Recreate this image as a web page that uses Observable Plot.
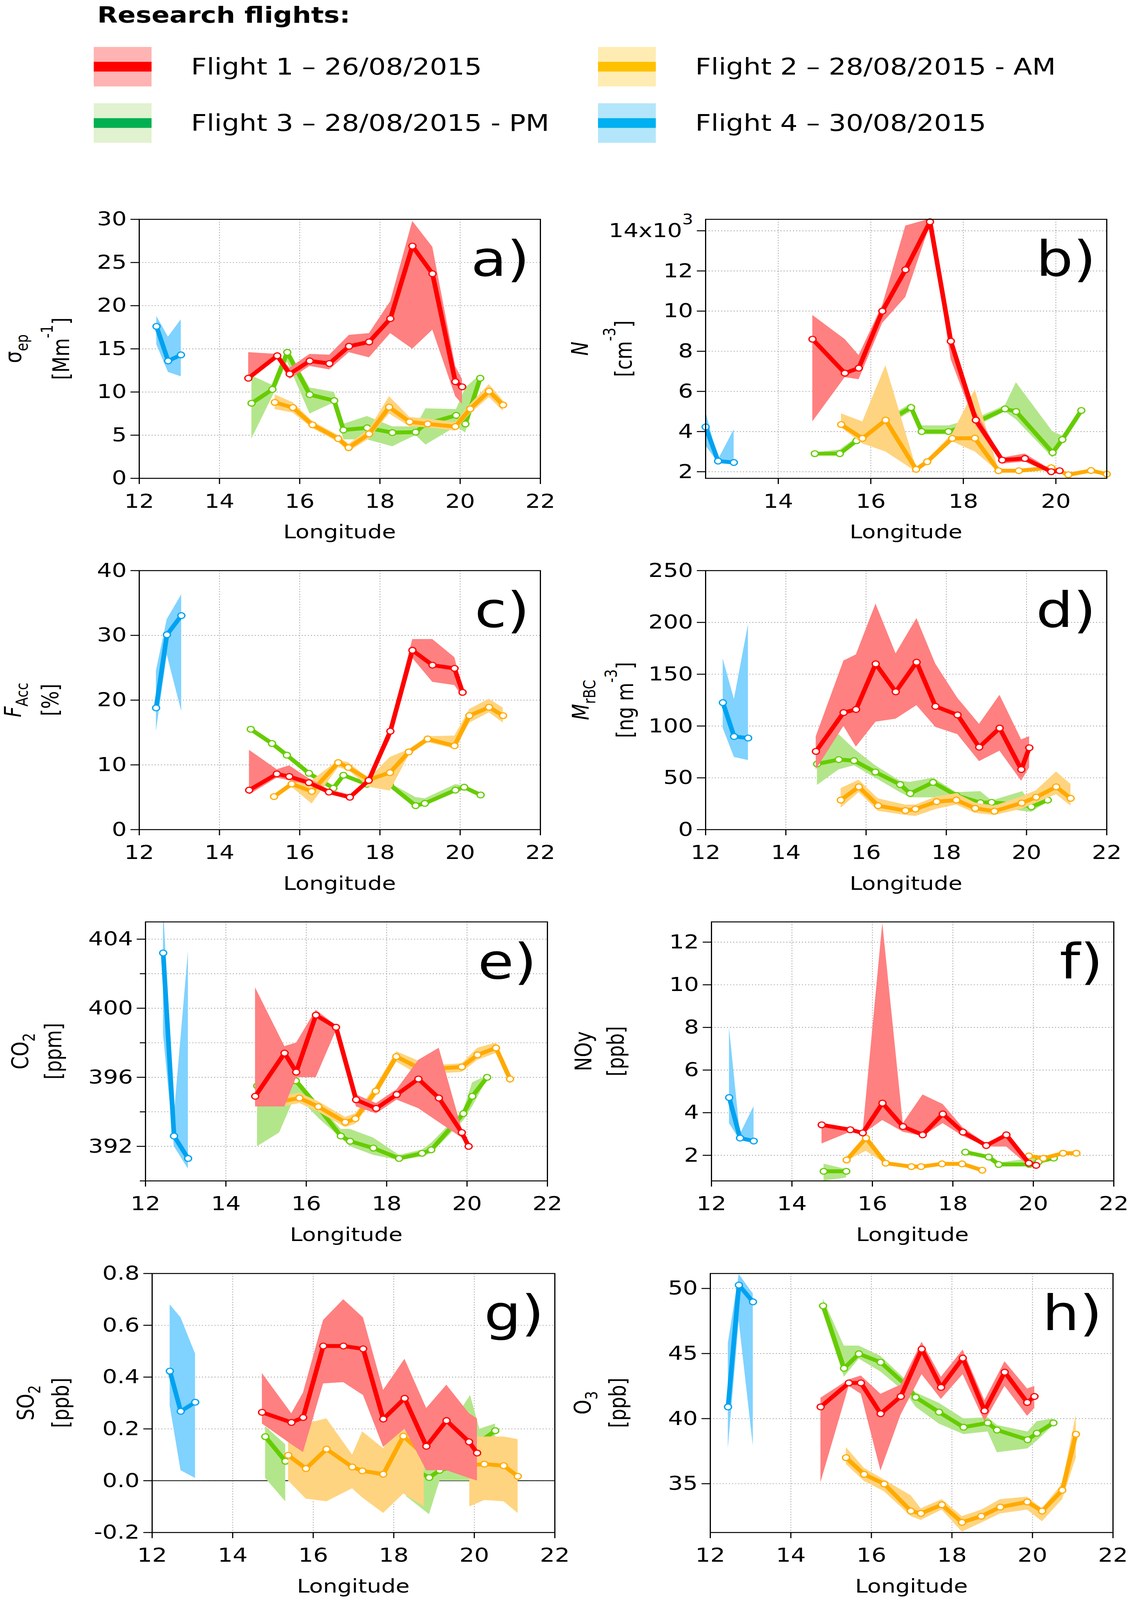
<!DOCTYPE html>
<html>
<head>
<meta charset="utf-8">
<script src="https://cdn.jsdelivr.net/npm/d3@7"></script>
<script src="https://cdn.jsdelivr.net/npm/@observablehq/plot@0.6"></script>
<style>
  html, body { margin: 0; padding: 0; background: white; }
  #wrap { position: relative; width: 2893px; height: 4942px; background: white; overflow: hidden; }
  .pos { position: absolute; }
</style>
</head>
<body>
<div id="wrap"></div>
<script>
// ---------------- DATA: [longitude, mean, lower, upper] ----------------
const flightNames = ["Flight 1 – 26/08/2015", "Flight 2 – 28/08/2015 - AM", "Flight 3 – 28/08/2015 - PM", "Flight 4 – 30/08/2015"];

// a) sigma_ep
const a_f1 = [[14.72,11.6,11.6,14.6],[15.44,14.2,13.8,14.4],[15.75,12.1,11.5,12.8],[16.25,13.6,13.0,14.4],[16.74,13.3,12.6,14.3],[17.23,15.3,14.6,16.6],[17.73,15.8,14.0,16.8],[18.26,18.5,16.8,20.5],[18.81,26.9,15.0,29.8],[19.31,23.7,17.2,26.8],[19.88,11.2,9.5,13.0],[20.05,10.6,8.6,11.5]];
const a_f2 = [[15.38,8.8,8.0,9.7],[15.83,8.2,7.6,8.8],[16.32,6.2,5.8,6.6],[16.96,4.6,4.2,5.0],[17.22,3.55,3.1,4.0],[17.73,5.15,4.6,5.7],[18.23,8.25,7.5,9.5],[18.74,6.55,6.0,7.1],[19.19,6.3,5.9,6.9],[19.88,6.0,5.5,6.5],[20.25,8.05,7.5,8.6],[20.72,10.1,9.4,10.9],[21.07,8.5,7.8,9.0]];
const a_f3 = [[14.8,8.7,4.6,11.9],[15.32,10.3,9.5,10.8],[15.69,14.6,13.5,15.0],[16.25,9.7,7.5,10.5],[16.86,9.0,8.8,10.0],[17.09,5.6,4.5,6.3],[17.68,5.85,4.5,7.2],[18.31,5.3,3.7,6.0],[18.89,5.35,5.0,6.0],[19.14,6.3,3.9,8.1],[19.9,7.3,6.0,8.0],[20.13,6.3,5.3,10.5],[20.5,11.6,11.0,12.0]];
const a_f4 = [[12.43,17.6,15.5,18.8],[12.72,13.6,12.3,16.4],[13.04,14.3,11.8,18.4]];

// b) N
const b_f1 = [[14.74,8.6,4.5,9.8],[15.44,6.91,6.7,8.6],[15.74,7.16,6.6,7.8],[16.25,10.0,9.4,10.3],[16.75,12.06,10.7,14.25],[17.28,14.45,14.3,14.6],[17.73,8.5,7.6,8.6],[18.27,4.57,4.3,5.0],[18.84,2.58,2.4,2.7],[19.33,2.66,2.5,2.9],[19.9,2.0,1.9,2.1],[20.08,2.05,1.95,2.1]];
const b_f2 = [[15.36,4.35,4.2,4.9],[15.82,3.66,3.4,4.5],[16.32,4.57,3.0,7.3],[16.98,2.12,2.0,2.2],[17.22,2.5,2.4,2.6],[17.76,3.66,3.5,3.9],[18.25,3.67,3.0,6.1],[18.76,2.05,2.0,2.1],[19.2,2.05,2.0,2.1],[19.9,2.2,2.1,2.3],[20.27,1.85,1.8,1.9],[20.76,2.06,2.0,2.1],[21.1,1.88,1.8,1.95]];
const b_f3 = [[14.79,2.9,2.85,2.95],[15.33,2.9,2.85,3.1],[15.69,3.54,3.4,3.7],[16.28,4.4,4.2,4.6],[16.87,5.2,5.0,5.4],[17.1,4.0,3.85,4.3],[17.68,4.0,3.85,4.3],[18.31,4.5,4.3,4.7],[18.9,5.13,5.0,5.3],[19.14,5.0,4.6,6.45],[19.93,2.95,2.7,4.0],[20.14,3.6,3.5,3.8],[20.55,5.05,4.95,5.15]];
const b_f4 = [[12.43,4.23,3.3,5.0],[12.7,2.53,2.45,2.6],[13.04,2.46,2.4,4.1]];

// c) F_Acc
const c_f1 = [[14.74,6.1,5.4,12.3],[15.43,8.6,8.0,9.3],[15.74,8.2,7.6,9.9],[16.23,7.25,6.9,7.9],[16.73,5.8,5.5,6.2],[17.25,5.0,4.8,5.4],[17.72,7.6,7.2,7.9],[18.26,15.2,14.0,16.0],[18.81,27.7,26.5,29.4],[19.31,25.4,22.8,29.4],[19.86,24.9,22.3,26.6],[20.06,21.2,20.5,21.8]];
const c_f2 = [[15.36,5.1,4.8,5.4],[15.8,7.05,6.6,7.4],[16.3,5.9,4.0,7.6],[16.96,10.35,9.6,10.7],[17.21,9.6,9.2,10.4],[17.72,7.7,6.6,7.9],[18.25,8.8,6.0,11.2],[18.72,12.0,11.5,12.4],[19.19,14.0,13.5,14.4],[19.86,12.95,12.5,14.5],[20.23,17.6,16.5,18.6],[20.72,18.9,18.1,20.2],[21.07,17.6,16.5,18.8]];
const c_f3 = [[14.78,15.5,15.2,15.8],[15.31,13.3,13.0,13.6],[15.68,11.5,11.2,11.8],[16.23,8.7,8.4,9.0],[16.84,6.4,6.1,6.7],[17.09,8.4,8.1,8.7],[17.68,7.0,6.7,7.3],[18.25,6.9,6.6,7.2],[18.89,3.7,3.5,5.0],[19.12,4.05,3.8,4.8],[19.88,6.1,5.8,7.0],[20.1,6.55,6.3,6.8],[20.51,5.35,5.1,5.6]];
const c_f4 = [[12.42,18.8,15.2,24.5],[12.69,30.1,27.0,32.5],[13.05,33.05,18.3,36.3]];

// d) M_rBC
const d_f1 = [[14.75,75.5,58,90],[15.44,113,100,163],[15.75,116,80,169],[16.24,160,104,218],[16.74,133,107,170],[17.26,161.6,120,204],[17.73,119,99,160],[18.28,110.7,92,127],[18.82,79.6,66,102],[19.33,98,76,130],[19.87,58,47,87],[20.07,79,60,90]];
const d_f2 = [[15.37,28.5,21,40],[15.82,41.3,36,48],[16.3,23.1,18,30],[16.98,18.4,14,24],[17.23,19.9,13,24],[17.76,27,20,32],[18.25,28.5,24,35],[18.72,20.5,16,26],[19.2,17.8,14,23],[19.88,25.7,20,32],[20.24,31.3,26,38],[20.74,41.3,34,56],[21.1,30.2,23,44]];
const d_f3 = [[14.78,63.4,43,80],[15.32,67.6,58,92],[15.7,66.6,62,78],[16.23,55.6,50,62],[16.85,43.5,36,47],[17.1,34.9,31,46],[17.67,45.6,31,50],[18.25,33,30,36],[18.85,26,23,37],[19.13,26.3,22,28],[19.9,24,18,37],[20.12,22,17,25],[20.53,28.5,27,30]];
const d_f4 = [[12.43,122.6,98,165],[12.71,89.9,70,126],[13.06,88.4,67,198]];

// e) CO2
const e_f1 = [[14.73,394.9,394.3,401.2],[15.46,397.4,394.3,397.8],[15.75,396.3,396.0,398.0],[16.24,399.6,396.0,399.9],[16.74,398.9,398.7,399.0],[17.24,394.7,394.3,395.0],[17.74,394.2,393.9,394.5],[18.25,395.0,394.7,395.3],[18.79,395.9,394.2,397.0],[19.3,394.8,393.4,397.7],[19.87,392.8,392.5,393.0],[20.04,392.0,391.9,392.1]];
const e_f2 = [[15.38,394.6,394.3,394.9],[15.83,394.8,394.5,395.1],[16.3,394.3,394.0,394.6],[16.97,393.4,393.1,393.7],[17.22,393.6,393.3,393.9],[17.73,395.2,394.9,395.5],[18.24,397.2,396.9,397.5],[18.75,396.6,396.2,397.0],[19.2,396.5,396.2,396.7],[19.87,396.6,396.3,396.8],[20.26,397.3,397.0,397.7],[20.72,397.7,397.4,398.0],[21.07,395.9,395.6,396.2]];
const e_f3 = [[14.78,395.5,392.0,395.6],[15.33,395.3,392.8,395.4],[15.74,395.8,395.0,396.0],[16.32,394.2,393.6,394.4],[16.86,392.6,392.5,393.0],[17.09,392.3,392.0,393.0],[17.67,391.9,391.5,392.5],[18.31,391.3,391.2,391.5],[18.88,391.6,391.4,391.8],[19.11,391.8,391.6,392.2],[19.91,393.9,393.5,394.1],[20.13,394.9,394.3,395.7],[20.5,396.0,395.9,396.1]];
const e_f4 = [[12.44,403.2,398.5,406],[12.71,392.6,392.0,393.8],[13.06,391.3,390.7,403.3]];

// f) NOy
const f_f1 = [[14.74,3.43,2.55,3.45],[15.45,3.2,3.1,3.3],[15.76,3.05,3.0,3.1],[16.25,4.45,3.65,12.9],[16.76,3.35,3.1,3.5],[17.25,2.96,2.9,4.85],[17.75,3.94,3.5,4.4],[18.25,3.09,2.9,3.3],[18.83,2.46,2.4,2.55],[19.33,2.96,2.4,3.0],[19.89,1.63,1.5,1.7],[20.07,1.53,1.45,1.6]];
const f_f2 = [[15.36,1.78,1.75,1.85],[15.84,2.81,2.2,2.85],[16.33,1.63,1.6,1.7],[16.97,1.47,1.42,1.52],[17.21,1.47,1.42,1.52],[17.73,1.6,1.55,1.65],[18.23,1.6,1.55,1.65],[18.73,1.3,1.25,1.35],[19.2,null,null,null],[19.89,1.97,1.9,2.05],[20.25,1.86,1.8,1.92],[20.74,2.1,2.05,2.15],[21.07,2.1,2.05,2.15]];
const f_f3 = [[14.79,1.25,0.8,1.6],[15.35,1.25,0.95,1.35],[16.5,null,null,null],[18.31,2.15,2.1,2.2],[18.89,1.92,1.85,2.0],[19.14,1.57,1.5,1.65],[19.9,1.57,1.5,1.85],[20.13,1.7,1.6,1.8],[20.51,1.87,1.8,1.95]];
const f_f4 = [[12.44,4.71,3.5,8.0],[12.71,2.81,2.7,3.0],[13.05,2.67,2.6,4.3]];

// g) SO2
const g_f1 = [[14.73,0.264,0.22,0.415],[15.46,0.225,0.14,0.26],[15.75,0.244,0.11,0.34],[16.25,0.52,0.375,0.62],[16.75,0.52,0.38,0.70],[17.24,0.509,0.33,0.63],[17.74,0.238,0.13,0.35],[18.27,0.318,0.2,0.47],[18.81,0.133,0.04,0.28],[19.31,0.232,0.04,0.37],[19.87,0.15,0.01,0.26],[20.07,0.107,0.0,0.24]];
const g_f2 = [[15.38,0.098,0.0,0.156],[15.82,0.047,-0.07,0.22],[16.33,0.122,-0.08,0.24],[16.97,0.053,-0.03,0.10],[17.22,0.038,-0.065,0.19],[17.74,0.025,-0.125,0.125],[18.24,0.172,-0.05,0.24],[18.75,0.10,-0.1,0.12],[19.3,null,null,null],[19.88,0.06,-0.1,0.17],[20.25,0.064,-0.075,0.17],[20.73,0.058,-0.08,0.17],[21.08,0.017,-0.125,0.16]];
const g_f3 = [[14.81,0.17,0.01,0.21],[15.31,0.075,-0.08,0.14],[16.5,null,null,null],[18.31,0.06,-0.06,0.15],[18.88,0.012,-0.13,0.05],[19.14,0.04,0.0,0.15],[19.9,0.07,0.0,0.33],[20.13,0.15,0.12,0.2],[20.52,0.193,0.17,0.22]];
const g_f4 = [[12.44,0.423,0.29,0.68],[12.71,0.268,0.04,0.63],[13.07,0.303,0.01,0.49]];

// h) O3
const h_f1 = [[14.74,40.9,35.1,41.6],[15.44,42.74,42.5,43.0],[15.74,42.74,41.9,43.3],[16.23,40.38,36.0,41.9],[16.73,41.7,40.3,42.6],[17.25,45.34,43.4,45.9],[17.73,42.4,41.5,43.2],[18.27,44.65,43.4,45.3],[18.81,40.6,39.8,41.4],[19.31,43.57,42.5,44.4],[19.87,41.24,40.2,42.3],[20.05,41.7,40.8,42.5]];
const h_f2 = [[15.37,37.0,36.5,37.8],[15.82,35.72,35.2,36.2],[16.32,34.98,34.4,35.3],[16.98,32.9,32.5,34.1],[17.23,32.72,32.2,33.1],[17.75,33.38,33.0,33.8],[18.25,32.03,31.3,32.5],[18.73,32.5,32.0,33.0],[19.2,33.2,32.7,33.8],[19.87,33.6,33.0,34.0],[20.24,32.9,32.1,33.1],[20.74,34.5,33.8,35.0],[21.08,38.8,37.0,40.3]];
const h_f3 = [[14.8,48.66,48.2,49.2],[15.32,43.86,43.2,45.6],[15.69,44.98,44.6,45.6],[16.23,44.33,43.6,44.8],[16.85,42.6,42.0,43.0],[17.1,41.64,40.9,42.0],[17.68,40.5,39.6,41.2],[18.29,39.34,38.8,40.0],[18.89,39.67,39.0,40.1],[19.12,39.12,37.4,39.5],[19.88,38.38,37.7,39.0],[20.11,38.88,38.3,39.8],[20.52,39.67,39.5,40.0]];
const h_f4 = [[12.44,40.9,37.7,45.8],[12.71,50.26,47.5,51.1],[13.06,48.97,37.9,49.6]];

// tick values
const lonTicks = [12, 14, 16, 18, 20, 22];
const lonTicksB = [14, 16, 18, 20];
const a_yticks = [0, 5, 10, 15, 20, 25, 30];
const b_yticks = [2, 4, 6, 8, 10, 12, 14];
const c_yticks = [0, 10, 20, 30, 40];
const d_yticks = [0, 50, 100, 150, 200, 250];
const e_yticks = [392, 396, 400, 404];
const e_yminor = [390, 394, 398, 402];
const f_yticks = [2, 4, 6, 8, 10, 12];
const g_yticks = [-0.2, 0, 0.2, 0.4, 0.6, 0.8];
const h_yticks = [35, 40, 45, 50];

// ---------------- STYLE ----------------
const FONT = "'DejaVu Sans', Verdana, sans-serif";
const LINE = ["#ff0000", "#ffaa00", "#66cc00", "#00a2f0"];
const BAND = ["#ff8080", "#ffd480", "#b3e68a", "#80d2ff"];
const LEG_DARK = ["#ff0000", "#ffc000", "#00b050", "#00b0f0"];
const LEG_LIGHT = ["#ffb3b3", "#ffecb3", "#e0f2cf", "#b3e6fa"];

const wrap = document.getElementById("wrap");

// ---------------- LEGEND ----------------
(function legend() {
  const svg = d3.create("svg").attr("width", 2893).attr("height", 520)
    .attr("class", "pos").style("left", "0px").style("top", "0px");
  svg.append("text").attr("x", 249).attr("y", 70).attr("font-family", FONT)
    .attr("font-weight", "bold").attr("font-size", 68).text("Research flights:");
  const pos = [[240, 206], [1531, 206], [240, 380], [1531, 380]];
  flightNames.forEach((name, i) => {
    const [x, cy] = pos[i];
    svg.append("rect").attr("x", x).attr("y", cy - 61).attr("width", 148).attr("height", 122).attr("fill", LEG_LIGHT[i]);
    svg.append("rect").attr("x", x).attr("y", cy - 15).attr("width", 148).attr("height", 30).attr("fill", LEG_DARK[i]);
    svg.append("text").attr("x", x + 249).attr("y", cy + 24).attr("font-family", FONT)
      .attr("font-size", 70).text(name);
  });
  wrap.appendChild(svg.node());
})();

// ---------------- PANELS ----------------
function flightMarks(data, k) {
  return [
    Plot.areaY(data, {x: d => d[0], y1: d => d[2], y2: d => d[3], fill: BAND[k], clip: true}),
    Plot.line(data, {x: d => d[0], y: d => d[1], stroke: LINE[k], strokeWidth: 12, strokeLinejoin: "round", strokeLinecap: "round"}),
    Plot.dot(data, {x: d => d[0], y: d => d[1], r: 9, fill: "white", stroke: LINE[k], strokeWidth: 3.5})
  ];
}

function drawYLabel(g, x, cy, segs, fs) {
  const t = g.append("text").attr("transform", `translate(${x},${cy}) rotate(-90)`)
    .attr("text-anchor", "middle").attr("font-size", fs).attr("font-family", FONT).attr("fill", "black");
  let shift = 0;
  for (const s of segs) {
    const ts = t.append("tspan").text(s.t);
    if (s.i) ts.attr("font-style", "italic");
    const target = s.sub ? 0.3 : s.sup ? -0.72 : 0;
    if (s.sub || s.sup) ts.attr("font-size", fs * 0.72);
    const dy = (target - shift) * fs;
    if (dy) ts.attr("dy", dy);
    shift = target;
  }
}

const FRAME_H = 800, MT = 60, MB = 225;

function makePanel(p) {
  const W = p.col === 0 ? 1446 : 1447;
  const svgLeft = p.col === 0 ? 0 : 1446;
  const mL = p.frameL - svgLeft;
  const mR = svgLeft + W - p.frameR;
  const marks = [
    Plot.gridX({ticks: p.xticks, stroke: "#a0a0a0", strokeOpacity: 1, strokeWidth: 2, strokeDasharray: "3,5"}),
    Plot.gridY({ticks: p.ygrid || p.yticks, stroke: "#a0a0a0", strokeOpacity: 1, strokeWidth: 2, strokeDasharray: "3,5"})
  ];
  if (p.zero) marks.push(Plot.ruleY([0], {stroke: "#333", strokeWidth: 3}));
  // draw order: flight 4, 3, 2, 1
  marks.push(...flightMarks(p.series[3], 3), ...flightMarks(p.series[2], 2), ...flightMarks(p.series[1], 1), ...flightMarks(p.series[0], 0));
  marks.push(Plot.frame({stroke: "black", strokeWidth: 3}));
  marks.push(Plot.axisX({ticks: p.xticks, tickSize: 18, tickPadding: 30, tickFormat: d => String(d), label: null, strokeWidth: 3, fontSize: 60}));
  marks.push(Plot.axisY({ticks: p.yticks, tickSize: 22, tickPadding: 10, tickFormat: p.yfmt || (d => String(d)), label: null, strokeWidth: 3, fontSize: 60}));
  if (p.yminor) marks.push(Plot.axisY({ticks: p.yminor, tickSize: 14, tickFormat: null, text: null, label: null, strokeWidth: 3}));
  const chart = Plot.plot({
    width: W, height: MT + FRAME_H + MB,
    marginLeft: mL, marginRight: mR, marginTop: MT, marginBottom: MB,
    x: {domain: p.xdom}, y: {domain: p.ydom},
    style: {fontFamily: FONT, fontSize: "60px", background: "transparent", overflow: "visible", color: "black"},
    marks
  });
  chart.classList.add("pos");
  chart.style.left = svgLeft + "px";
  chart.style.top = (p.top - MT) + "px";
  chart.style.maxWidth = "none";
  const g = d3.select(chart).append("g");
  // x label
  g.append("text").attr("x", mL + (W - mL - mR) / 2).attr("y", MT + FRAME_H + 186)
    .attr("text-anchor", "middle").attr("font-family", FONT).attr("font-size", 58).text("Longitude");
  // panel letter
  g.append("text").attr("x", W - mR - 27).attr("y", MT + 175).attr("text-anchor", "end")
    .attr("font-family", FONT).attr("font-size", 150).text(p.letter);
  // y labels
  const cy = MT + FRAME_H / 2;
  drawYLabel(g, p.l1 - svgLeft, cy, p.label1, 58);
  drawYLabel(g, p.l2 - svgLeft, cy, p.label2, 58);
  if (p.after) p.after(chart);
  wrap.appendChild(chart);
}

const ROW = [677, 1762, 2847, 3933];

makePanel({col: 0, top: ROW[0], frameL: 356, frameR: 1383, xdom: [12, 22], ydom: [0, 30],
  xticks: lonTicks, yticks: a_yticks, series: [a_f1, a_f2, a_f3, a_f4], letter: "a)",
  l1: 54, l2: 177, label1: [{t: "σ"}, {t: "ep", sub: true}], label2: [{t: "[Mm"}, {t: "-1", sup: true}, {t: "]"}]});

makePanel({col: 1, top: ROW[0], frameL: 1806, frameR: 2833, xdom: [12.43, 21.1], ydom: [1.67, 14.57],
  xticks: lonTicksB, yticks: b_yticks, yfmt: d => d === 14 ? "14x10" : String(d),
  series: [b_f1, b_f2, b_f3, b_f4], letter: "b)",
  l1: 1505, l2: 1617, label1: [{t: "N", i: true}], label2: [{t: "[cm"}, {t: "-3", sup: true}, {t: "]"}],
  after: chart => {
    d3.select(chart).selectAll("text").filter(function () { return this.textContent === "14x10"; })
      .append("tspan").attr("font-size", 44).attr("dy", -40).text("3");
  }});

makePanel({col: 0, top: ROW[1], frameL: 356, frameR: 1383, xdom: [12, 22], ydom: [0, 40],
  xticks: lonTicks, yticks: c_yticks, series: [c_f1, c_f2, c_f3, c_f4], letter: "c)",
  l1: 54, l2: 149, label1: [{t: "F", i: true}, {t: "Acc", sub: true}], label2: [{t: "[%]"}]});

makePanel({col: 1, top: ROW[1], frameL: 1806, frameR: 2833, xdom: [12, 22], ydom: [0, 250],
  xticks: lonTicks, yticks: d_yticks, series: [d_f1, d_f2, d_f3, d_f4], letter: "d)",
  l1: 1507, l2: 1621, label1: [{t: "M", i: true}, {t: "rBC", sub: true}], label2: [{t: "[ng m"}, {t: "-3", sup: true}, {t: "]"}]});

makePanel({col: 0, top: ROW[2], frameL: 372, frameR: 1401, xdom: [12, 22], ydom: [390, 405],
  xticks: lonTicks, yticks: e_yticks, yminor: e_yminor, ygrid: [392, 394, 396, 398, 400, 402, 404],
  series: [e_f1, e_f2, e_f3, e_f4], letter: "e)",
  l1: 72, l2: 157, label1: [{t: "CO"}, {t: "2", sub: true}], label2: [{t: "[ppm]"}]});

makePanel({col: 1, top: ROW[2], frameL: 1821, frameR: 2851, xdom: [12, 22], ydom: [0.8, 12.95],
  xticks: lonTicks, yticks: f_yticks, series: [f_f1, f_f2, f_f3, f_f4], letter: "f)",
  l1: 1514, l2: 1597, label1: [{t: "NOy"}], label2: [{t: "[ppb]"}]});

makePanel({col: 0, top: ROW[3], frameL: 389, frameR: 1420, xdom: [12, 22], ydom: [-0.2, 0.8],
  xticks: lonTicks, yticks: g_yticks, yfmt: d => d.toFixed(1), zero: true,
  series: [g_f1, g_f2, g_f3, g_f4], letter: "g)",
  l1: 86, l2: 176, label1: [{t: "SO"}, {t: "2", sub: true}], label2: [{t: "[ppb]"}]});

makePanel({col: 1, top: ROW[3], frameL: 1818, frameR: 2849, xdom: [12, 22], ydom: [31.25, 51.15],
  xticks: lonTicks, yticks: h_yticks, series: [h_f1, h_f2, h_f3, h_f4], letter: "h)",
  l1: 1512, l2: 1602, label1: [{t: "O"}, {t: "3", sub: true}], label2: [{t: "[ppb]"}]});

// If the actual viewport is shorter than the 4942px figure, fit the whole figure into it.
(function fitViewport() {
  const vh = window.innerHeight;
  if (vh > 1000 && vh < 4930) {
    document.documentElement.style.overflow = "hidden";
    document.body.style.overflow = "hidden";
    wrap.style.transformOrigin = "0 0";
    wrap.style.transform = `scale(1, ${vh / 4942})`;
  }
})();
</script>
</body>
</html>
